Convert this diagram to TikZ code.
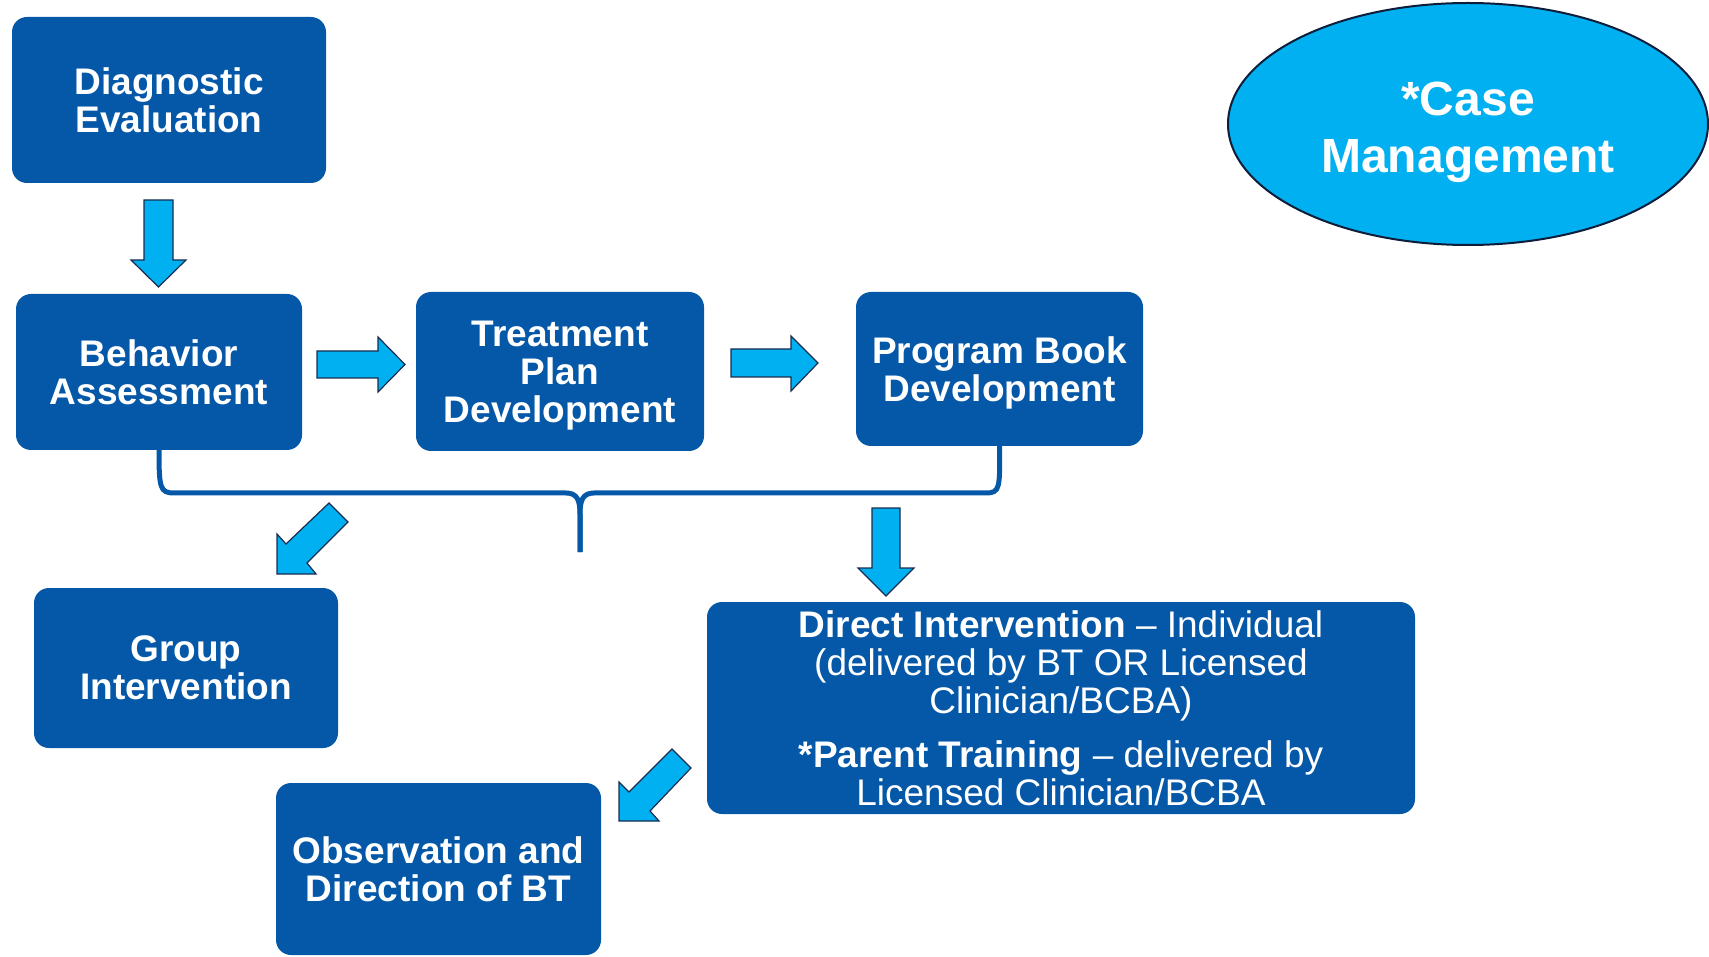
\documentclass[tikz,border=0pt]{standalone}
\usepackage{fontspec}
\setmainfont{Liberation Sans}
\usetikzlibrary{shapes.geometric}
\definecolor{boxblue}{RGB}{4,88,167}
\definecolor{arrcyan}{RGB}{0,176,240}
\definecolor{arrline}{RGB}{26,45,80}
\definecolor{ellline}{RGB}{14,30,58}
\newcommand{\nodepth}[1]{\raisebox{0pt}[\height][0pt]{#1}}
\begin{document}
\begin{tikzpicture}[x=1pt,y=-1pt,
 boxnode/.style={fill=boxblue, rounded corners=15pt, text=white, align=center, inner sep=0pt, font=\bfseries\fontsize{37}{38}\selectfont},
 blockarrow/.style={fill=arrcyan, draw=arrline, line width=1.2pt, line join=miter},
 bracket/.style={draw=boxblue, line width=5pt}]
\useasboundingbox (0,0) rectangle (1709,957);
% boxes
\node[boxnode, minimum width=314pt, minimum height=166pt] (diag) at (169,100) {Diagnostic\\Evaluation};
\node[boxnode, minimum width=286pt, minimum height=156pt] (behav) at (159,372) {Behavior\\Assessment};
\node[boxnode, minimum width=288pt, minimum height=159pt] (treat) at (560,371.5) {Treatment\\Plan\\\nodepth{Development}};
\node[boxnode, minimum width=287pt, minimum height=154pt] (prog) at (999.5,369) {Program Book\\\nodepth{Development}};
\node[boxnode, minimum width=304pt, minimum height=160pt] (group) at (186,668) {Group\\Intervention};
\node[boxnode, minimum width=708pt, minimum height=212pt, font=\mdseries\fontsize{37}{38}\selectfont] (direct) at (1061,708)
 {\textbf{Direct Intervention} – Individual\\(delivered by BT OR Licensed\\Clinician/BCBA)\\[16pt]\textbf{*Parent Training} – delivered by\\Licensed Clinician/BCBA};
\node[boxnode, minimum width=325pt, minimum height=172pt] (obs) at (438.5,869) {Observation and\\Direction of BT};
% ellipse
\node[ellipse, fill=arrcyan, draw=ellline, line width=2pt, minimum width=480pt, minimum height=242pt, inner sep=0pt] (case) at (1468,124) {};
\node[text=white, align=center, inner sep=0pt, font=\bfseries\fontsize{48}{57}\selectfont] (casetext) at ([yshift=-8pt]case.center) {*Case\\Management};
% block arrows
\draw[blockarrow] (144,200) -- (173,200) -- (173,260) -- (186,260) -- (158.5,287) -- (131,260) -- (144,260) -- cycle;
\draw[blockarrow] (317,351) -- (378,351) -- (378,337) -- (405,364.5) -- (378,392) -- (378,378) -- (317,378) -- cycle;
\draw[blockarrow] (731,349) -- (791,349) -- (791,336) -- (818,363) -- (791,391) -- (791,377) -- (731,377) -- cycle;
\draw[blockarrow] (872,508) -- (900,508) -- (900,568) -- (914,568) -- (886,596) -- (858,568) -- (872,568) -- cycle;
\draw[blockarrow] (329,503) -- (348,522) -- (307,563) -- (316,574) -- (277,574) -- (277,534) -- (286,544) -- cycle;
\draw[blockarrow] (672,749) -- (691,768) -- (650,811) -- (659,821) -- (619,821) -- (619,782) -- (629,792) -- cycle;
% bracket
\coordinate (tip) at (580,552);
\draw[bracket] (behav.south) .. controls (159,488) and (160,493) .. (174,493) -- (566,493)
  .. controls (577,493) and (580,500) .. (580,514) -- (tip);
\draw[bracket] (tip) -- (580,514) .. controls (580,500) and (583,493) .. (594,493) -- (986,493)
  .. controls (1000,493) and (1000,488) .. (prog.south);
\end{tikzpicture}
\end{document}
